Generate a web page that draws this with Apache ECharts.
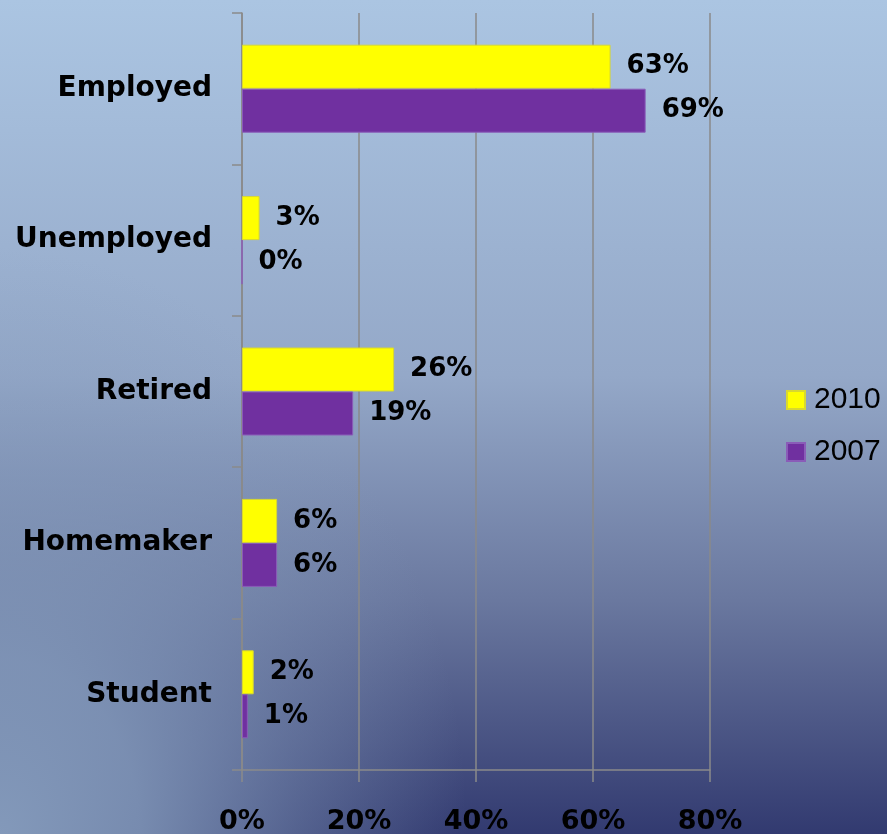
<!DOCTYPE html>
<html>
<head>
<meta charset="utf-8">
<style>
  html, body { margin: 0; padding: 0; }
  #chart { width: 887px; height: 834px; }
</style>
<script src="https://cdn.jsdelivr.net/npm/echarts@6/dist/echarts.min.js"></script>
</head>
<body>
<div id="chart"></div>
<script>
const categories = ["Employed", "Unemployed", "Retired", "Homemaker", "Student"]
const values2010 = [63, 3, 26, 6, 2]
const values2007 = [69, 0, 19, 6, 1]
const xTicks = [0, 20, 40, 60, 80]

let myChart = echarts.init(document.getElementById("chart"))

const valueLabel = {
    show: true,
    position: "right",
    distance: 16,
    color: "#000",
    fontFamily: "DejaVu Sans",
    fontWeight: "bold",
    fontSize: 26,
    formatter: (p) => p.value + "%",
}

myChart.setOption({
    // vertical blue -> navy, the bottom-left corner stays lighter
    backgroundColor: new echarts.graphic.LinearGradient(0, 0, 0, 1, [
        { offset: 0, color: "#abc5e2" },
        { offset: 0.45, color: "#94a8c8" },
        { offset: 0.72, color: "#6a789f" },
        { offset: 1, color: "#323a70" },
    ]),
    graphic: [
        {
            type: "rect",
            z: -10,
            silent: true,
            scaleX: 0.8,
            shape: { x: 0, y: 0, width: 1110, height: 834 },
            style: {
                fill: new echarts.graphic.RadialGradient(0, 1, 0.7, [
                    { offset: 0, color: "rgba(131,153,186,1)" },
                    { offset: 0.3, color: "rgba(131,153,186,0.85)" },
                    { offset: 0.65, color: "rgba(131,153,186,0.4)" },
                    { offset: 1, color: "rgba(131,153,186,0)" },
                ]),
            },
        },
    ],
    animation: false,
    grid: {
        left: 242,
        right: 177,
        top: 13,
        bottom: 64,
        outerBoundsMode: "none",
    },
    legend: {
        orient: "vertical",
        left: 781,
        top: 380,
        itemWidth: 18,
        itemHeight: 18,
        itemGap: 22,
        icon: "rect",
        textStyle: {
            color: "#000",
            fontFamily: "Liberation Sans",
            fontSize: 30,
            padding: [0, 0, 0, 4],
        },
        data: ["2010", "2007"],
    },
    xAxis: {
        type: "value",
        min: 0,
        max: 80,
        interval: 20,
        axisLine: { show: true, lineStyle: { color: "#8a8a8a", width: 1.5 } },
        axisTick: { show: true, length: 12, lineStyle: { color: "#8a8a8a", width: 1.5 } },
        splitLine: { show: true, lineStyle: { color: "#8a8a8a", width: 1.5 } },
        axisLabel: {
            margin: 38,
            color: "#000",
            fontFamily: "DejaVu Sans",
            fontWeight: "bold",
            fontSize: 27,
            formatter: (v) => (xTicks.includes(v) ? v + "%" : ""),
        },
    },
    yAxis: {
        type: "category",
        inverse: true,
        data: categories,
        axisLine: { show: true, lineStyle: { color: "#8a8a8a", width: 1.5 } },
        axisTick: { show: true, length: 10, lineStyle: { color: "#8a8a8a", width: 1.5 } },
        axisLabel: {
            margin: 30,
            color: "#000",
            fontFamily: "DejaVu Sans",
            fontWeight: "bold",
            fontSize: 28,
        },
    },
    series: [
        {
            name: "2010",
            type: "bar",
            barWidth: 44,
            barGap: "0%",
            itemStyle: { color: "#ffff00", borderColor: "#d8d830", borderWidth: 1 },
            label: valueLabel,
            data: values2010,
        },
        {
            name: "2007",
            type: "bar",
            barWidth: 44,
            barGap: "0%",
            itemStyle: { color: "#7030a0", borderColor: "#8a5cb8", borderWidth: 1 },
            label: valueLabel,
            data: values2007,
        },
    ],
})
</script>
</body>
</html>
